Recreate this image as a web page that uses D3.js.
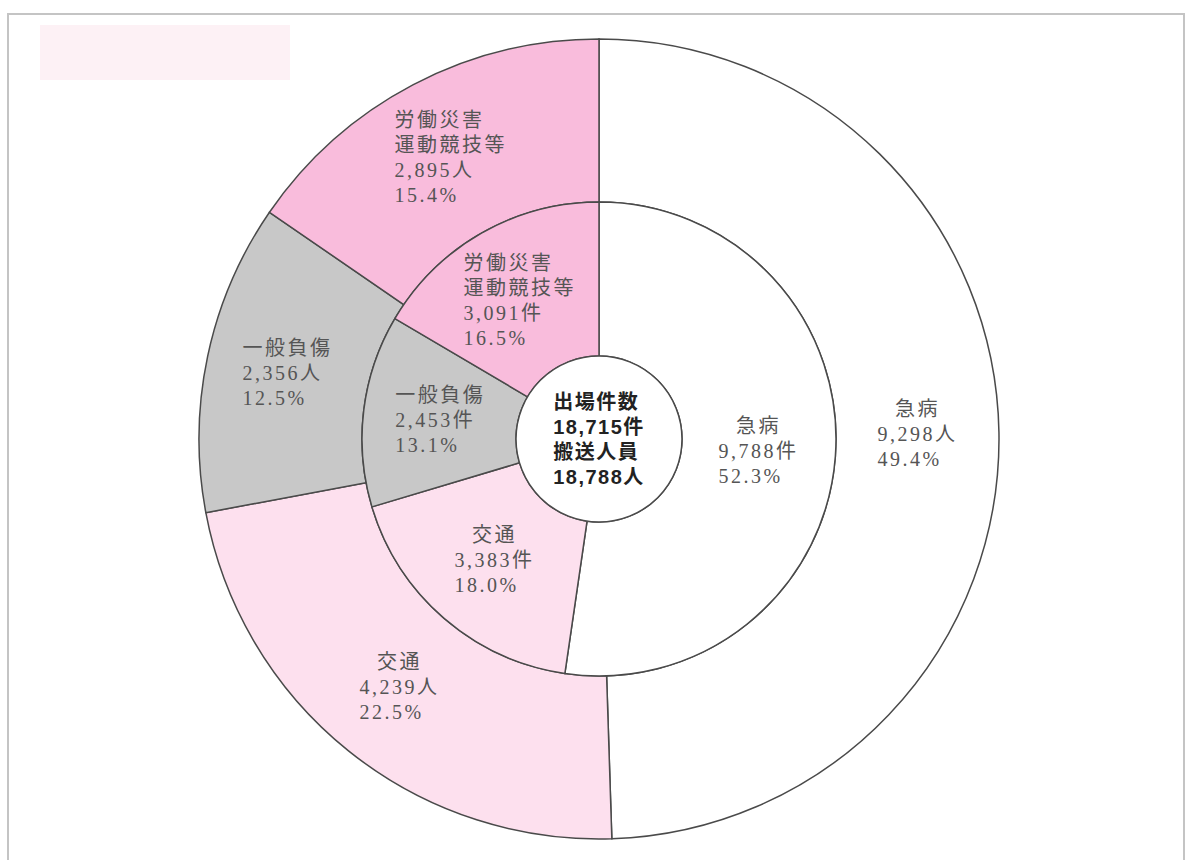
<!DOCTYPE html>
<html><head><meta charset="utf-8">
<script src="https://cdn.jsdelivr.net/npm/d3@7"></script>
<style>
html,body{margin:0;padding:0;background:#fff;}
svg{display:block;}
</style></head>
<body>
<svg id="chart" width="1186" height="860"></svg>
<script>
// ---- data ----
const categories = ["急病", "交通", "一般負傷", "労働災害・運動競技等"];
const titleLines = [["急病"], ["交通"], ["一般負傷"], ["労働災害", "運動競技等"]];
const innerValues = [9788, 3383, 2453, 3091];   // 出場件数 (件)
const innerPct = ["52.3%", "18.0%", "13.1%", "16.5%"];
const outerValues = [9298, 4239, 2356, 2895];   // 搬送人員 (人)
const outerPct = ["49.4%", "22.5%", "12.5%", "15.4%"];
const centerLines = ["出場件数", "18,715件", "搬送人員", "18,788人"];
const colors = ["#ffffff", "#fde0ee", "#c8c8c8", "#f9bcdc"];

// ---- layout ----
const W = 1186, H = 860;
const cx = 599, cy = 439;
const r0 = 83, r1 = 237, r2 = 400;

const svg = d3.select("#chart");

// frame & faint background
svg.append("rect").attr("x", 40).attr("y", 25).attr("width", 250).attr("height", 55)
  .attr("fill", "#fdf1f5");
svg.append("rect").attr("x", 8).attr("y", 14).attr("width", W - 10).attr("height", H + 20)
  .attr("fill", "none").attr("stroke", "#c4c4c4").attr("stroke-width", 2);

const g = svg.append("g").attr("transform", `translate(${cx},${cy})`);
const pie = d3.pie().sort(null).value(d => d).startAngle(0).endAngle(2 * Math.PI);
const fmt = d3.format(",");

function ring(values, pct, unit, rIn, rOut) {
  const arc = d3.arc().innerRadius(rIn).outerRadius(rOut);
  const arcs = pie(values);
  g.append("g").selectAll("path").data(arcs).join("path")
    .attr("d", arc)
    .attr("fill", (d, i) => colors[i])
    .attr("stroke", "#4a4a4a").attr("stroke-width", 1.5);

  const lh = 25;
  arcs.forEach((d, i) => {
    const [x, y] = arc.centroid(d);
    const lines = titleLines[i].map(t => ({t, title: true}))
      .concat([{t: fmt(values[i]) + unit, title: false}, {t: pct[i], title: false}]);
    const grp = g.append("g");
    const texts = lines.map((l, k) => grp.append("text")
      .attr("y", y + (k - (lines.length - 1) / 2) * lh)
      .attr("dominant-baseline", "central")
      .attr("font-family", "'Liberation Serif','Noto Sans CJK JP',serif")
      .attr("font-size", 20)
      .attr("letter-spacing", 2.5)
      .attr("fill", "#555")
      .text(l.t));
    const widths = texts.map(t => t.node().getComputedTextLength());
    const maxW = d3.max(widths);
    const numW = d3.max(widths.filter((w, k) => !lines[k].title));
    const left = x - maxW / 2;
    texts.forEach((t, k) => {
      let xx = left;
      if (lines[k].title && widths[k] < numW) xx = left + (numW - widths[k]) / 2;
      t.attr("x", xx);
    });
  });
}

ring(outerValues, outerPct, "人", r1, r2);
ring(innerValues, innerPct, "件", r0, r1);

// center circle
g.append("circle").attr("r", r0).attr("fill", "#fff")
  .attr("stroke", "#4a4a4a").attr("stroke-width", 1.5);
const ct = centerLines.map((t, k) => g.append("text")
  .attr("y", (k - 1.5) * 25)
  .attr("dominant-baseline", "central")
  .attr("font-family", "'Liberation Sans','Noto Sans CJK JP',sans-serif")
  .attr("font-weight", "bold")
  .attr("font-size", 20)
  .attr("letter-spacing", 1.5)
  .attr("fill", "#222")
  .text(t));
const cw = d3.max(ct.map(t => t.node().getComputedTextLength()));
ct.forEach(t => t.attr("x", -cw / 2));
</script>
</body></html>
